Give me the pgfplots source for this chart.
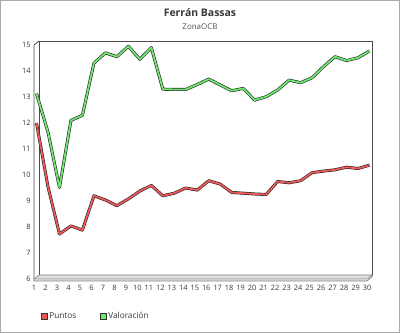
\documentclass[border=0pt]{standalone}
\usepackage{pgfplots}
\pgfplotsset{compat=1.18}
\usepackage{fontspec}
\setmainfont{Open Sans}
\definecolor{redf}{RGB}{238,88,88}
\definecolor{greenf}{RGB}{110,232,110}
\definecolor{txt}{RGB}{55,55,55}
\definecolor{frm}{RGB}{170,170,170}
\begin{document}
\begin{tikzpicture}[x=1bp,y=1bp]
\useasboundingbox (0,0) rectangle (400,333);
\draw[fill=white, draw=frm, line width=1bp] (0.5,0.5) rectangle (399.5,332.5);
\node[font=\bfseries\fontsize{10.5}{12}\selectfont, text=txt] at (200,320.5) {Ferrán Bassas};
\node[font=\fontsize{8}{9}\selectfont, text=txt!85] at (200,306.5) {ZonaOCB};
% 3D walls
\draw[black!70, line width=0.8bp] (39,58) rectangle (372,292);
\draw[black!70, line width=0.8bp] (34,54) -- (34,288) -- (39,292);
\filldraw[fill=black!12, draw=black!50, line width=0.6bp] (34,52) -- (367,52) -- (372,56) -- (372,58) -- (39,58) -- (34,54) -- cycle;
\draw[black!50, line width=0.5bp] (34,54) -- (367,54) -- (372,58);
\begin{axis}[
  at={(34bp,54bp)}, anchor=south west, scale only axis,
  width=333bp, height=234bp,
  xmin=1, xmax=30, ymin=6, ymax=15,
  axis line style={draw=none}, tick style={draw=none},
  xtick={1,...,30}, ytick={6,...,15},
  clip=false,
  ticklabel style={font=\fontsize{7.4}{8}\selectfont, text=txt},
  /pgf/number format/assume math mode=true,
  xticklabel style={yshift=-3bp},
  legend style={draw=none, fill=none, at={(0.012,-0.158)}, anchor=west,
    font=\fontsize{8.3}{9}\selectfont, text=txt, legend columns=2,
    /tikz/every even column/.append style={column sep=22bp}},
]
\addlegendimage{legend image code/.code={\draw[draw=black!80, fill=redf, line width=0.5bp] (0bp,-2.8bp) rectangle (5.6bp,2.8bp);}}
\addlegendentry{Puntos}
\addlegendimage{legend image code/.code={\draw[draw=black!80, fill=greenf, line width=0.5bp] (0bp,-2.8bp) rectangle (5.6bp,2.8bp);}}
\addlegendentry{Valoración}
\addplot[redf, line width=1.8bp, line join=round, xshift=2.5bp, forget plot,
  preaction={draw=black!85, line width=3bp}]
coordinates {
(1,12.0)(2,9.55)(3,7.73)(4,8.04)(5,7.88)(6,9.2)(7,9.04)(8,8.82)(9,9.08)(10,9.38)
(11,9.6)(12,9.2)(13,9.3)(14,9.5)(15,9.42)(16,9.78)(17,9.65)(18,9.33)(19,9.3)(20,9.27)
(21,9.25)(22,9.75)(23,9.7)(24,9.78)(25,10.09)(26,10.15)(27,10.2)(28,10.3)(29,10.25)(30,10.38)};
\addplot[greenf, line width=1.8bp, line join=round, xshift=2.5bp, forget plot,
  preaction={draw=black!85, line width=3bp}]
coordinates {
(1,13.13)(2,11.65)(3,9.52)(4,12.1)(5,12.3)(6,14.3)(7,14.7)(8,14.55)(9,14.95)(10,14.45)
(11,14.9)(12,13.3)(13,13.29)(14,13.29)(15,13.48)(16,13.69)(17,13.46)(18,13.24)(19,13.33)(20,12.88)
(21,13.01)(22,13.27)(23,13.65)(24,13.55)(25,13.74)(26,14.17)(27,14.55)(28,14.4)(29,14.51)(30,14.77)};
\end{axis}
\end{tikzpicture}
\end{document}
